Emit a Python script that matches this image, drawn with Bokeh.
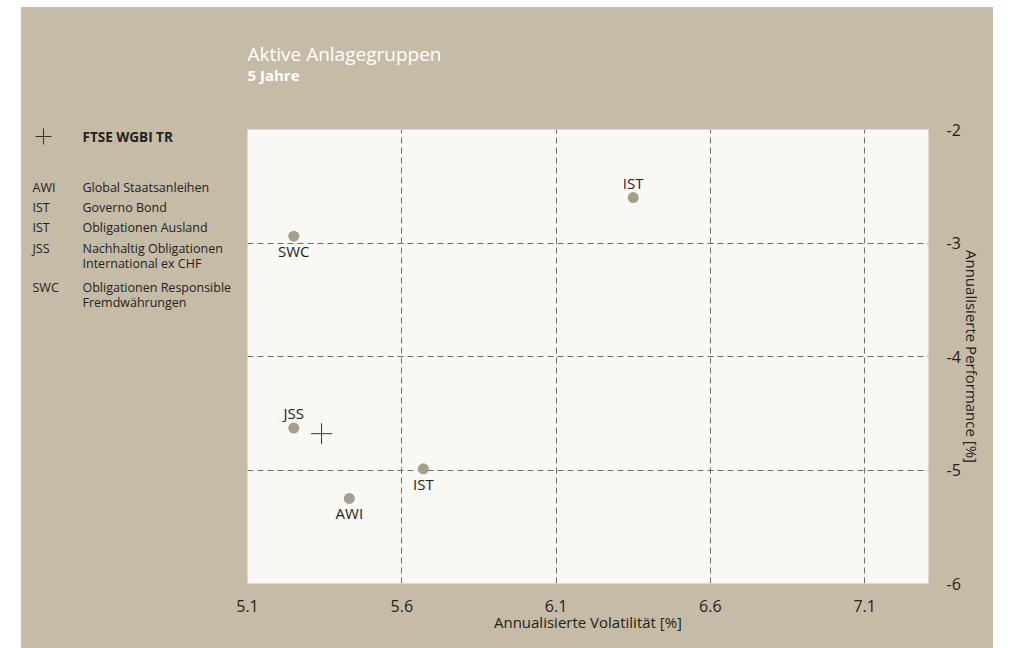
from bokeh.plotting import figure
from bokeh.models import Range1d, FixedTicker, ColumnDataSource, Spacer
from bokeh.layouts import row, column
from bokeh.core.properties import value
from bokeh.embed import file_html
from bokeh.resources import INLINE

# ---- data ----
names = ["IST", "SWC", "JSS", "IST", "AWI"]
vol = [6.35, 5.25, 5.25, 5.67, 5.43]
perf = [-2.60, -2.94, -4.63, -4.99, -5.25]
label_side = ["above", "below", "above", "below", "below"]
bench_name = "FTSE WGBI TR"
bench_vol = [5.34]
bench_perf = [-4.68]
legend_abbr = ["AWI", "IST", "IST", "JSS", "SWC"]
legend_names = [["Global Staatsanleihen"], ["Governo Bond"], ["Obligationen Ausland"],
                ["Nachhaltig Obligationen", "International ex CHF"],
                ["Obligationen Responsible", "Fremdwährungen"]]
x_ticks = [5.1, 5.6, 6.1, 6.6, 7.1]
y_ticks = [-2, -3, -4, -5, -6]
title = "Aktive Anlagegruppen"
subtitle = "5 Jahre"
x_title = "Annualisierte Volatilität [%]"
y_title = "Annualisierte Performance [%]"

BEIGE = "#C6BBA6"
PLOTBG = "#F9F8F5"
DOT = "#A49E8B"
TXT = "#222222"
FONT = "Open Sans"

# ---- layout sizes ----
TOTAL_W = 972
TOP_H = 110
ROW_H = 531
LEFT_W = 214
MAIN_W = TOTAL_W - LEFT_W
B_TOP, B_BOT = 12, 65
FRAME_H = ROW_H - B_TOP - B_BOT


def blank(w, h, ymax, top=0, bottom=0):
    f = figure(width=w, height=h, output_backend="svg", toolbar_location=None,
               x_range=Range1d(0, w), y_range=Range1d(ymax, 0),
               x_axis_type=None, y_axis_type=None,
               min_border=0, min_border_left=0, min_border_right=0,
               min_border_top=top, min_border_bottom=bottom)
    f.background_fill_alpha = 0
    f.border_fill_alpha = 0
    f.outline_line_color = None
    f.xgrid.visible = False
    f.ygrid.visible = False
    return f


# ---- top: title ----
top = blank(TOTAL_W, TOP_H, TOP_H)
top.text(x=[226], y=[46], text=[title], text_font=value(FONT), text_font_size="19px",
         text_color="white", text_baseline="middle")
top.text(x=[226], y=[67], text=[subtitle], text_font=value(FONT), text_font_size="15px",
         text_font_style="bold", text_color="white", text_baseline="middle")

# ---- left: legend (coordinates relative to the aligned frame top) ----
left = blank(LEFT_W, ROW_H, FRAME_H, top=B_TOP, bottom=B_BOT)
cr = left.scatter(x=[22], y=[7], marker="cross", size=16, line_color="#333333", line_width=1)
cr.level = "overlay"
t1 = left.text(x=[61], y=[7], text=[bench_name], text_font=value(FONT), text_font_size="13.5px",
               text_font_style="bold", text_color=TXT, text_baseline="middle")
t1.level = "overlay"
ys = [58, 78, 98, 119, 158]
lx, ly, lt = [], [], []
for abbr, lines, y in zip(legend_abbr, legend_names, ys):
    lx.append(11); ly.append(y); lt.append(abbr)
    for i, ln in enumerate(lines):
        lx.append(61); ly.append(y + 15 * i); lt.append(ln)
left.text(x=lx, y=ly, text=lt, text_font=value(FONT), text_font_size="12.5px",
          text_color=TXT, text_baseline="middle")

# ---- main scatter plot ----
p = figure(width=MAIN_W, height=ROW_H, output_backend="svg", toolbar_location=None,
           x_range=Range1d(5.1, 7.307), y_range=Range1d(-6, -2),
           y_axis_location="right",
           min_border_left=12, min_border_right=65, min_border_top=B_TOP, min_border_bottom=B_BOT)
p.background_fill_color = PLOTBG
p.border_fill_alpha = 0
p.outline_line_color = None

for ax in (p.xaxis[0], p.yaxis[0]):
    ax.axis_line_color = None
    ax.major_tick_line_color = None
    ax.minor_tick_line_color = None
    ax.major_label_text_font = FONT
    ax.major_label_text_font_size = "16px"
    ax.major_label_text_color = TXT
    ax.axis_label_text_font = FONT
    ax.axis_label_text_font_size = "15px"
    ax.axis_label_text_color = TXT
    ax.axis_label_text_font_style = "normal"

p.xaxis.ticker = FixedTicker(ticks=x_ticks)
p.yaxis.ticker = FixedTicker(ticks=y_ticks)
p.yaxis.major_label_overrides = {t: str(t) for t in y_ticks}
p.xaxis.major_label_overrides = {t: f"{t:.1f}" for t in x_ticks}
p.xaxis.axis_label = x_title
p.yaxis.axis_label = y_title
p.xaxis.major_label_standoff = 10
p.xaxis.axis_label_standoff = -3
p.yaxis.major_label_standoff = 12
p.yaxis.axis_label_standoff = -2

for g in (p.xgrid[0], p.ygrid[0]):
    g.grid_line_color = "#6f6f6f"
    g.grid_line_dash = "6 4"
    g.grid_line_width = 1

src = ColumnDataSource(dict(x=vol, y=perf, name=names,
                            off=[-15 if s == "above" else 15 for s in label_side]))
p.scatter("x", "y", source=src, size=11, fill_color=DOT, line_color=None)
p.text("x", "y", text="name", source=src, y_offset="off", text_align="center",
       text_baseline="middle", text_font=value(FONT), text_font_size="15px", text_color=TXT)
p.scatter(bench_vol, bench_perf, marker="cross", size=21, line_color="#333333", line_width=1)

inner = column(top, row(left, p), styles={"background-color": BEIGE})
layout = column(Spacer(height=7), row(Spacer(width=21), inner))
open("out.html", "w").write(file_html(layout, INLINE))
